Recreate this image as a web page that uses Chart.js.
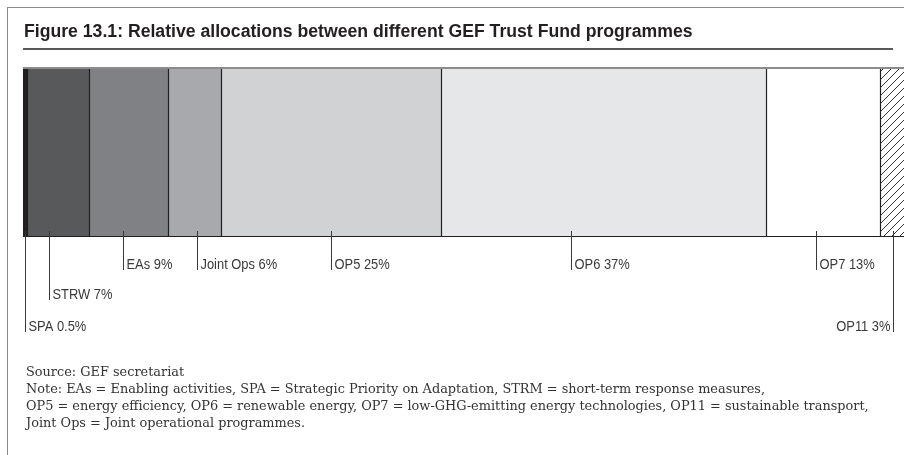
<!DOCTYPE html>
<html>
<head>
<meta charset="utf-8">
<script src="https://cdn.jsdelivr.net/npm/chart.js@4/dist/chart.umd.min.js"></script>
<style>
  html, body { margin:0; padding:0; background:#fff; }
  #wrap { position:relative; width:904px; height:455px; overflow:hidden; }
  #frame { position:absolute; left:7px; top:7px; width:905px; height:460px; border-left:1px solid #8a8a8a; border-top:1px solid #8a8a8a; }
  #title { position:absolute; left:24px; top:21px; font-family:"Liberation Sans","Arial",sans-serif; font-weight:bold; font-size:18px; color:#231f20; white-space:nowrap; transform:scaleX(0.98); transform-origin:0 0; }
  #rule { position:absolute; left:23px; top:48px; width:870px; height:2px; background:#5a5a5a; }
  #notes { position:absolute; left:26px; top:363px; font-family:"DejaVu Serif",serif; font-size:13px; line-height:17px; color:#333; white-space:nowrap; transform:scaleX(0.99); transform-origin:0 0; }
  canvas { position:absolute; left:0; top:0; }
</style>
</head>
<body>
<div id="wrap">
  <canvas id="c" width="904" height="455"></canvas>
  <div id="frame"></div>
  <div id="title">Figure 13.1: Relative allocations between different GEF Trust Fund programmes</div>
  <div id="rule"></div>
  <div id="notes">
    <div>Source: GEF secretariat</div>
    <div>Note: EAs = Enabling activities, SPA = Strategic Priority on Adaptation, STRM = short-term response measures,</div>
    <div>OP5 = energy efficiency, OP6 = renewable energy, OP7 = low-GHG-emitting energy technologies, OP11 = sustainable transport,</div>
    <div>Joint Ops = Joint operational programmes.</div>
  </div>
</div>
<script>
// ---- data ----
const categories = ["GEF Trust Fund"];
const programmes = ["SPA", "STRW", "EAs", "Joint Ops", "OP5", "OP6", "OP7", "OP11"];
const shares = [0.5, 7, 9, 6, 25, 37, 13, 3];
const shareLabels = ["SPA 0.5%", "STRW 7%", "EAs 9%", "Joint Ops 6%", "OP5 25%", "OP6 37%", "OP7 13%", "OP11 3%"];

// ---- style ----
const fills = ["#231f20", "#58595b", "#808184", "#a7a9ac", "#d1d2d4", "#e6e7e8", "#ffffff", "HATCH"];
const leaderFrac = [0.45, 0.35, 0.43, 0.55, 0.5, 0.4, 0.44, 0.5];
const labelRow = [3, 2, 1, 1, 1, 1, 1, 3];
const labelAlign = ["left","left","left","left","left","left","left","right"];
const rowBaseline = {1: 269, 2: 299, 3: 331};

function hatch() {
  const p = document.createElement('canvas');
  p.width = 8; p.height = 8;
  const g = p.getContext('2d');
  g.fillStyle = '#fff'; g.fillRect(0,0,8,8);
  g.strokeStyle = '#333'; g.lineWidth = 1;
  g.beginPath();
  g.moveTo(-1, 9); g.lineTo(9, -1);
  g.moveTo(-1, 1); g.lineTo(1, -1);
  g.moveTo(7, 9); g.lineTo(9, 7);
  g.stroke();
  return g.createPattern(p, 'repeat');
}
const ctx = document.getElementById('c').getContext('2d');
const pat = hatch();

const datasets = programmes.map((p, i) => ({
  label: p,
  data: [shares[i]],
  backgroundColor: fills[i] === "HATCH" ? pat : fills[i],
  borderWidth: 0,
  barPercentage: 1,
  categoryPercentage: 1
}));

const decor = {
  id: 'decor',
  afterDatasetsDraw(chart) {
    const c = chart.ctx;
    const area = chart.chartArea;
    const metas = programmes.map((p, i) => chart.getDatasetMeta(i).data[0]);
    const top = metas[0].y - metas[0].height / 2;
    const bot = metas[0].y + metas[0].height / 2;
    c.save();
    c.beginPath(); c.rect(area.left, 0, area.right - area.left, chart.height); c.clip();
    c.strokeStyle = '#231f20'; c.lineWidth = 1.2;
    metas.forEach((m, i) => {
      if (i === metas.length - 1) return;
      const x = Math.round(m.x) + 0.5;
      c.beginPath(); c.moveTo(x, top); c.lineTo(x, bot); c.stroke();
    });
    const lastM = metas[metas.length - 1];
    c.strokeStyle = '#8c8c8c'; c.lineWidth = 2;
    c.beginPath(); c.moveTo(metas[0].base, top + 1); c.lineTo(lastM.x, top + 1); c.stroke();
    c.strokeStyle = '#231f20'; c.lineWidth = 1.2;
    c.beginPath(); c.moveTo(metas[0].base, bot - 0.5); c.lineTo(lastM.x, bot - 0.5); c.stroke();
    c.restore();

    // leaders + labels
    c.save();
    c.font = '15px "Liberation Sans", Arial, sans-serif';
    c.fillStyle = '#3a3a3a';
    c.strokeStyle = '#3a3a3a';
    c.lineWidth = 1;
    c.textBaseline = 'alphabetic';
    const sx = 0.86;
    metas.forEach((m, i) => {
      const x = Math.round(m.base + leaderFrac[i] * (m.x - m.base)) + 0.5;
      const yb = rowBaseline[labelRow[i]];
      c.beginPath(); c.moveTo(x, bot - 6); c.lineTo(x, yb + 1); c.stroke();
      c.save();
      if (labelAlign[i] === 'right') {
        c.translate(x - 3, yb); c.scale(sx, 1);
        c.textAlign = 'right';
      } else {
        c.translate(x + 3, yb); c.scale(sx, 1);
        c.textAlign = 'left';
      }
      c.fillText(shareLabels[i], 0, 0);
      c.restore();
    });
    c.restore();
  }
};

new Chart(ctx, {
  type: 'bar',
  data: { labels: categories, datasets },
  options: {
    indexAxis: 'y',
    responsive: false,
    animation: false,
    layout: { padding: { left: 23, right: 0, top: 67, bottom: 218 } },
    scales: {
      x: { stacked: true, display: false, min: 0, max: 100.2 },
      y: { stacked: true, display: false }
    },
    plugins: { legend: { display: false }, tooltip: { enabled: false } }
  },
  plugins: [decor]
});
</script>
</body>
</html>
